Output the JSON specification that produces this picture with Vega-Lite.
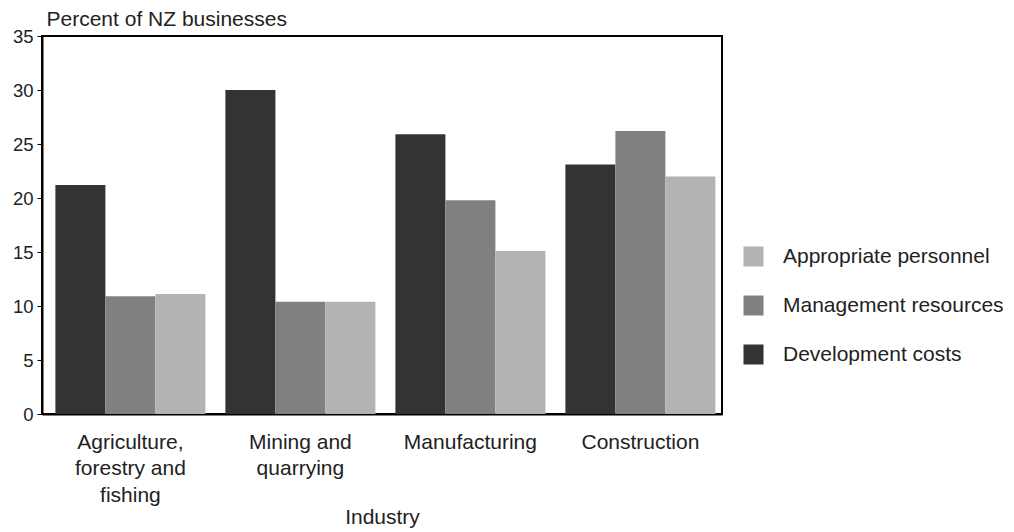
{
  "$schema": "https://vega.github.io/schema/vega-lite/v6.json",
  "width": 680,
  "height": 378,
  "autosize": {"type": "none"},
  "padding": {"left": 42, "top": 36, "right": 292, "bottom": 118},
  "background": "white",
  "config": {
    "view": {"stroke": "black", "strokeWidth": 2},
    "font": "Liberation Sans",
    "axis": {"grid": false}
  },
  "data": {
    "values": [
      {"industry": "Agriculture,|forestry and|fishing", "factor": "Development costs", "pct": 21.2},
      {"industry": "Agriculture,|forestry and|fishing", "factor": "Management resources", "pct": 10.9},
      {"industry": "Agriculture,|forestry and|fishing", "factor": "Appropriate personnel", "pct": 11.1},
      {"industry": "Mining and|quarrying", "factor": "Development costs", "pct": 30.0},
      {"industry": "Mining and|quarrying", "factor": "Management resources", "pct": 10.4},
      {"industry": "Mining and|quarrying", "factor": "Appropriate personnel", "pct": 10.4},
      {"industry": "Manufacturing", "factor": "Development costs", "pct": 25.9},
      {"industry": "Manufacturing", "factor": "Management resources", "pct": 19.8},
      {"industry": "Manufacturing", "factor": "Appropriate personnel", "pct": 15.1},
      {"industry": "Construction", "factor": "Development costs", "pct": 23.1},
      {"industry": "Construction", "factor": "Management resources", "pct": 26.2},
      {"industry": "Construction", "factor": "Appropriate personnel", "pct": 22.0}
    ]
  },
  "mark": {"type": "bar"},
  "encoding": {
    "x": {
      "field": "industry",
      "type": "nominal",
      "sort": ["Agriculture,|forestry and|fishing", "Mining and|quarrying", "Manufacturing", "Construction"],
      "scale": {"paddingInner": 0.1176, "paddingOuter": 0.0588, "align": 0.67},
      "axis": {
        "title": "Industry",
        "labelAngle": 0,
        "labelExpr": "split(datum.value, '|')",
        "labelLineHeight": 26.5,
        "labelFontSize": 21,
        "labelColor": "#222",
        "labelBaseline": "top",
        "ticks": false,
        "tickSize": 0,
        "labelPadding": 17,
        "domainColor": "black",
        "domainWidth": 2,
        "titleFontSize": 21,
        "titleFontWeight": "normal",
        "titleColor": "#222",
        "titleBaseline": "alphabetic",
        "titleY": 109
      }
    },
    "xOffset": {
      "field": "factor",
      "sort": ["Development costs", "Management resources", "Appropriate personnel"]
    },
    "y": {
      "field": "pct",
      "type": "quantitative",
      "scale": {"domain": [0, 35], "nice": false},
      "axis": {
        "values": [0, 5, 10, 15, 20, 25, 30, 35],
        "title": "Percent of NZ businesses",
        "titleAngle": 0,
        "titleAlign": "left",
        "titleX": 4,
        "titleY": -11,
        "titleBaseline": "alphabetic",
        "titleFontSize": 21,
        "titleFontWeight": "normal",
        "titleColor": "#222",
        "labelFontSize": 18.5,
        "labelColor": "#222",
        "tickSize": 5,
        "labelPadding": 4,
        "tickColor": "black",
        "domainColor": "black",
        "domainWidth": 2
      }
    },
    "color": {
      "field": "factor",
      "type": "nominal",
      "scale": {
        "domain": ["Appropriate personnel", "Management resources", "Development costs"],
        "range": ["#b3b3b3", "#808080", "#333333"]
      },
      "legend": {
        "title": null,
        "orient": "none",
        "legendX": 701,
        "legendY": 210,
        "symbolType": "square",
        "symbolSize": 400,
        "symbolStrokeWidth": 0,
        "symbolOpacity": 1,
        "labelFontSize": 21,
        "labelColor": "#222",
        "labelOffset": 19,
        "labelLimit": 300,
        "rowPadding": 27
      }
    }
  }
}
